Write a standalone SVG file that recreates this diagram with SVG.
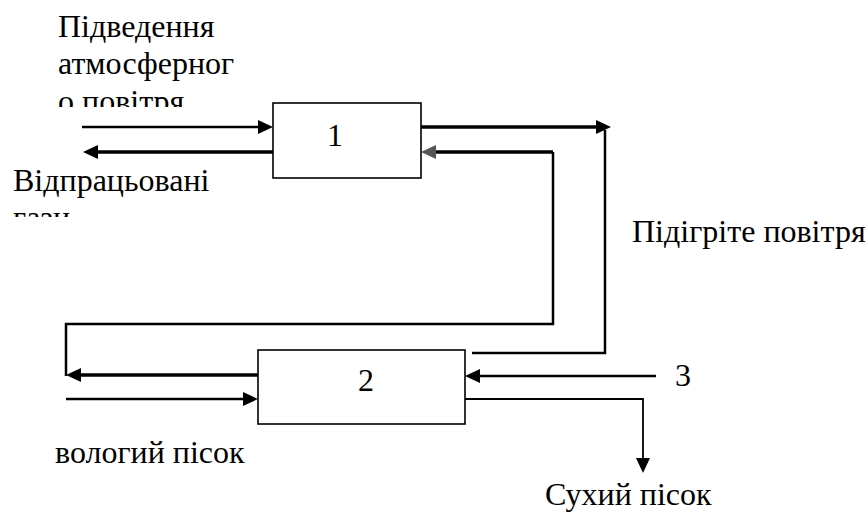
<svg xmlns="http://www.w3.org/2000/svg" width="868" height="515" viewBox="0 0 868 515">
<g id="connectors" fill="none" stroke="#000">
<path stroke-width="2.5" d="M82,127H262"/>
<polygon points="258,120 273,127 258,134" fill="#000" stroke="none"/>
<path stroke-width="3.5" d="M273,152H94"/>
<polygon points="98,145 83,152 98,159" fill="#000" stroke="none"/>
<path stroke-width="3.5" d="M421,127H600"/>
<polygon points="596,120 611,127 596,134" fill="#000" stroke="none"/>
<path stroke-width="2.5" d="M605,130V353H472"/>
<path stroke-width="3.5" d="M553,152H432"/>
<polygon points="436,145 421,152 436,159" fill="#555" stroke="none"/>
<path stroke-width="2.5" d="M553,152V324H66V376"/>
<path stroke-width="3.5" d="M258,375H77"/>
<polygon points="81,368 66,375 81,382" fill="#000" stroke="none"/>
<path stroke-width="2.5" d="M66,399H247"/>
<polygon points="243,392 258,399 243,406" fill="#000" stroke="none"/>
<path stroke-width="2.5" d="M656,376H476"/>
<polygon points="480,369 465,376 480,383" fill="#000" stroke="none"/>
<path stroke-width="1.8" d="M465,399H643V462"/>
<polygon points="636,458 643,473 650,458" fill="#000" stroke="none"/>
</g>
<g id="node1"><rect x="273" y="103" width="148" height="75" fill="#fff" stroke="#000" stroke-width="1.6"/><text x="327" y="146" font-family="Liberation Serif" font-size="32" style="font-family:'Liberation Serif',serif !important">1</text></g>
<g id="node2"><rect x="258" y="350" width="207" height="74" fill="#fff" stroke="#000" stroke-width="1.6"/><text x="358" y="391" font-family="Liberation Serif" font-size="32" style="font-family:'Liberation Serif',serif !important">2</text></g>
<g id="label-in">
<text x="58" y="37" font-family="Liberation Serif" font-size="32" style="font-family:'Liberation Serif',serif !important">Підведення</text>
<text x="58" y="74" font-family="Liberation Serif" font-size="32" style="font-family:'Liberation Serif',serif !important">атмосферног</text>
<text x="58" y="112" font-family="Liberation Serif" font-size="32" style="font-family:'Liberation Serif',serif !important">о повітря</text>
<rect x="54" y="107" width="145" height="13" fill="#fff"/>
</g>
<g id="label-gas">
<text x="13" y="191" font-family="Liberation Serif" font-size="32" style="font-family:'Liberation Serif',serif !important">Відпрацьовані</text>
<text x="13" y="228" font-family="Liberation Serif" font-size="32" style="font-family:'Liberation Serif',serif !important">гази</text>
<rect x="10" y="217" width="75" height="16" fill="#fff"/>
</g>
<g id="label-hot"><text x="632" y="242" font-family="Liberation Serif" font-size="32" style="font-family:'Liberation Serif',serif !important">Підігріте повітря</text></g>
<g id="label-wet"><text x="55" y="463" font-family="Liberation Serif" font-size="32" style="font-family:'Liberation Serif',serif !important">вологий пісок</text></g>
<g id="label-3"><text x="675" y="386" font-family="Liberation Serif" font-size="32" style="font-family:'Liberation Serif',serif !important">3</text></g>
<g id="label-dry"><text x="545" y="505" font-family="Liberation Serif" font-size="32" style="font-family:'Liberation Serif',serif !important">Сухий пісок</text></g>
</svg>
